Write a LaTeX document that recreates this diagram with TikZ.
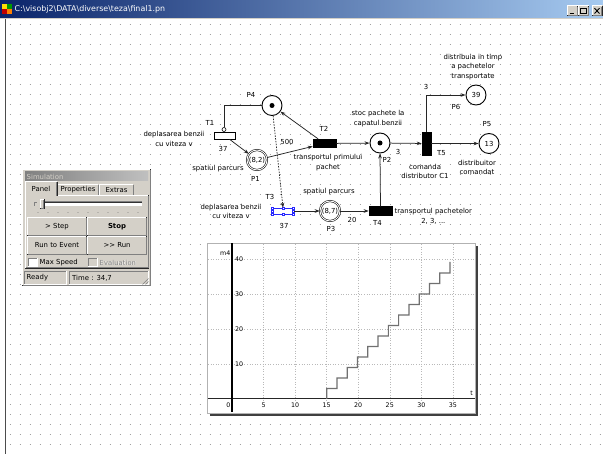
\documentclass[tikz,border=0pt]{standalone}
\usepackage{fontspec}
\setmainfont{DejaVu Sans}
\usetikzlibrary{arrows.meta,calc}

\definecolor{winface}{HTML}{D4D0C8}
\definecolor{winshade}{HTML}{808080}
\definecolor{capdark}{HTML}{0A246A}
\definecolor{caplight}{HTML}{A6CAF0}
\definecolor{capgrayL}{HTML}{808080}
\definecolor{capgrayR}{HTML}{C0C0C0}
\definecolor{dotgray}{HTML}{A0A0A0}
\definecolor{selblue}{HTML}{2828FF}
\definecolor{stairs}{HTML}{707070}

\newcommand\netfont{\fontsize{6.9}{9.8}\selectfont}
\newcommand\uifont{\fontsize{6.9}{8}\selectfont}
\newcommand\tickfont{\fontsize{6.3}{7}\selectfont}

% raised 3D box: x1, y1 (top), x2, y2 (bottom)
\newcommand\raisedpanel[4]{%
  \fill[winface] (#1,#2) rectangle (#3,#4);
  \draw[white,line width=0.7pt] (#1+0.35,#4-0.35) -- (#1+0.35,#2+0.35) -- (#3-0.35,#2+0.35);
  \draw[black!85,line width=0.7pt] (#1+0.35,#4-0.35) -- (#3-0.35,#4-0.35) -- (#3-0.35,#2+0.35);
  \draw[winshade,line width=0.7pt] (#1+1.05,#4-1.05) -- (#3-1.05,#4-1.05) -- (#3-1.05,#2+1.05);
}
% sunken 3D edge
\newcommand\sunkenpanel[4]{%
  \draw[winshade,line width=0.7pt] (#1+0.35,#4-0.35) -- (#1+0.35,#2+0.35) -- (#3-0.35,#2+0.35);
  \draw[white,line width=0.7pt] (#1+0.35,#4-0.35) -- (#3-0.35,#4-0.35) -- (#3-0.35,#2+0.35);
}
% property-sheet tab
\newcommand\tabshape[4]{%
  \fill[winface] (#1,#2) rectangle (#3,#4);
  \draw[white,line width=0.7pt] (#1+0.35,#4) -- (#1+0.35,#2+0.35) -- (#3-1,#2+0.35);
  \draw[black!85,line width=0.7pt] (#3-0.35,#2+1) -- (#3-0.35,#4);
  \draw[winshade,line width=0.7pt] (#3-1.05,#2+1) -- (#3-1.05,#4);
}

\begin{document}
\begin{tikzpicture}[x=1pt,y=-1pt,
  lbl/.style={font=\netfont, inner sep=0pt, align=center},
  place/.style={circle, draw=black, line width=0.9pt, minimum size=20pt, inner sep=0pt, fill=white, font=\netfont},
  dplace/.style={place, double=white, double distance=0.9pt, line width=0.55pt},
  trans/.style={rectangle, draw=black, fill=black, line width=0.6pt, inner sep=0pt},
  htrans/.style={trans, minimum width=23pt, minimum height=8.5pt},
  arc/.style={draw=black!85, line width=0.75pt, -{Stealth[length=5pt,width=3.6pt]}},
  token/.style={circle, fill=black, inner sep=0pt, minimum size=5pt},
  chartgrid/.style={draw=gray!55, line width=0.5pt, dash pattern=on 1pt off 1.6pt},
  btn/.style={font=\uifont, inner sep=0pt},
  tick/.style={font=\tickfont, inner sep=0pt}
]
\useasboundingbox (0,0) rectangle (603,454);
\fill[white] (0,0) rectangle (603,454);

% ---------- drawing area with dot grid ----------
\foreach \yy in {24,34,...,454}
  \draw[dotgray, line width=0.9pt, dash pattern=on 0.9pt off 9.1pt] (9.55,\yy) -- (603,\yy);
\draw[black!70, line width=1pt] (5.5,18) -- (5.5,454);

% ---------- caption bar ----------
\shade[left color=capdark, right color=caplight] (0,0) rectangle (603,18);
\draw[winface, line width=1pt] (0,18.5) -- (603,18.5);
\fill[yellow!80!orange] (2,4) rectangle (7,9);
\fill[green!60!black] (7,4) rectangle (12,9);
\fill[red!75!black] (2,9) rectangle (7,14);
\fill[orange] (7,9) rectangle (12,14);
\node[anchor=west, text=white, font=\fontsize{7.9}{9}\selectfont, inner sep=0pt] (title) at (14.5,9.5)
  {C:\textbackslash visobj2\textbackslash DATA\textbackslash diverse\textbackslash teza\textbackslash final1.pn};
\raisedpanel{567}{5.5}{578}{16}
\raisedpanel{578}{5.5}{589}{16}
\raisedpanel{591.5}{5.5}{602.5}{16}
\draw[black, line width=1.3pt] (569.5,13.5) -- (574,13.5);
\draw[black, line width=0.6pt] (580.5,8.5) rectangle (586,13.8);
\draw[black, line width=1.1pt] (580.5,8.8) -- (586,8.8);
\draw[black, line width=0.9pt] (594.5,8.2) -- (599.5,13.5) (594.5,13.5) -- (599.5,8.2);

% ---------- Petri net: places ----------
\node[place] (P4) at (272,105.5) {};
\node[token] (tok4) at (P4) {};
\node[dplace] (P1) at (257,160) {(8,2)};
\node[place] (P2) at (380,143) {};
\node[token] (tok2) at (P2) {};
\node[dplace] (P3) at (330,211) {(8,7)};
\node[place] (P5) at (489,143.5) {13};
\node[place] (P6) at (476,95) {39};

% ---------- Petri net: transitions ----------
\node[trans, fill=white, minimum width=21pt, minimum height=7pt] (T1) at (224.5,135.5) {};
\node[circle, draw=black, fill=white, line width=0.6pt, minimum size=4pt, inner sep=0pt] (inh1) at (224,129.5) {};
\node[htrans] (T2) at (324.5,143.5) {};
\node[trans, minimum width=9pt, minimum height=23pt] (T5) at (426.5,143.5) {};
\node[rectangle, draw=selblue, line width=0.6pt, minimum width=21pt, minimum height=6pt, inner sep=0pt] (T3) at (283,211) {};
\foreach \hx/\hy [count=\i] in {272.5/208, 283/208, 293.5/208, 272.5/214, 283/214, 293.5/214, 272.5/211, 293.5/211}
  \node[rectangle, draw=selblue, fill=white, line width=0.4pt, minimum size=2.2pt, inner sep=0pt] (h\i) at (\hx,\hy) {};
\node[htrans] (T4) at (380.5,211) {};

% ---------- Petri net: arcs ----------
\draw[black!85, line width=0.75pt] (P4.west) -| (inh1.north);
\draw[arc] (T1) -- (P1);
\draw[arc] (P1) -- (T2);
\draw[arc] (T2) -- (P4);
\draw[arc] (T2) -- (P2);
\draw[arc] (P2) -- (T5);
\draw[arc] (T5) -- (P5);
\draw[arc] (T5.north) |- (P6.west);
\draw[arc, dash pattern=on 1.5pt off 1.3pt] (P4) -- (T3.north);
\draw[arc] (T3) -- (P3);
\draw[arc] (P3) -- (T4);
\draw[arc] (T4.north) -- (P2.south);

% ---------- Petri net: labels ----------
\node[lbl] (lP4) at (251,95) {P4};
\node[lbl] (lT1) at (210,123) {T1};
\node[lbl] (dT1) at (174,139) {deplasarea benzii\\cu viteza v};
\node[lbl] (wT1) at (223,148.5) {37};
\node[lbl] (dP1) at (218,169) {spatiul parcurs};
\node[lbl] (lP1) at (255.5,178.5) {P1};
\node[lbl] (w500) at (287,141.5) {500};
\node[lbl] (lT2) at (324,129) {T2};
\node[lbl] (dT2) at (328,162.5) {transportul primului\\pachet};
\node[lbl] (dP2) at (378,118.5) {stoc pachete la\\capatul benzii};
\node[lbl] (lP2) at (387,160) {P2};
\node[lbl] (w3a) at (398,152) {3};
\node[lbl] (lT5) at (441.5,153) {T5};
\node[lbl] (dT5) at (425,171.5) {comanda\\distributor C1};
\node[lbl] (lP5) at (487,124) {P5};
\node[lbl] (dP5) at (477,167.5) {distribuitor\\comandat};
\node[lbl] (w3b) at (426,86.5) {3};
\node[lbl] (lP6) at (456,106.5) {P6};
\node[lbl] (dP6) at (473,67) {distribuia in timp\\a pachetelor\\transportate};
\node[lbl] (lT3) at (270,196.5) {T3};
\node[lbl] (dT3) at (231,211.5) {deplasarea benzii\\cu viteza v};
\node[lbl] (wT3) at (284,225.5) {37};
\node[lbl] (dP3) at (329,192) {spatiul parcurs};
\node[lbl] (lP3) at (331,228.5) {P3};
\node[lbl] (w20) at (352,220) {20};
\node[lbl] (lT4) at (377.5,223) {T4};
\node[lbl, anchor=west] (dT4) at (394.5,216.5) {transportul pachetelor\\2, 3, ...};

% ---------- simulation control window ----------
\raisedpanel{22}{169}{151}{286}
\shade[left color=capgrayL, right color=capgrayR] (25,172) rectangle (148,181);
\node[anchor=west, text=winface, font=\uifont, inner sep=0pt] (simtitle) at (26.5,176.5) {Simulation};
% page area
\draw[white, line width=0.7pt] (25.35,268) -- (25.35,195.35) -- (148,195.35);
\draw[black!85, line width=0.7pt] (25.35,268) -- (148.65,268) -- (148.65,195.35);
\draw[winshade, line width=0.7pt] (26,267.3) -- (147.95,267.3) -- (147.95,196);
% tabs
\tabshape{57}{184}{99}{195}
\tabshape{99}{184}{134}{195}
\tabshape{25}{181.5}{57.5}{196}
\node[btn] (tab1) at (41,189) {Panel};
\node[btn] (tab2) at (78,190) {Properties};
\node[btn] (tab3) at (116.5,190) {Extras};
% slider
\fill[white] (42,201) rectangle (142,206);
\draw[winshade, line width=0.7pt] (42.35,206) -- (42.35,201.35) -- (142,201.35);
\draw[black!80, line width=0.6pt] (43,205.5) -- (43,202) -- (141.5,202);
\draw[winshade, line width=0.8pt] (34.5,206) -- (34.5,202) -- (37,202);
\raisedpanel{40}{199}{44.5}{209}
\foreach \i in {0,...,10}
  \fill[black!65] ({38+10*\i},212.5) circle (0.45);
% buttons
\raisedpanel{27}{217}{87}{236}
\raisedpanel{87}{217}{147}{236}
\raisedpanel{27}{236}{87}{255}
\raisedpanel{87}{236}{147}{255}
\node[btn] (bstep) at (57,226.5) {> Step};
\node[btn, font=\uifont\bfseries] (bstop) at (117,226.5) {Stop};
\node[btn] (bevent) at (57,245.5) {Run to Event};
\node[btn] (brun) at (117,245.5) {>\kern0pt> Run};
% check boxes
\fill[white] (28,258) rectangle (37.5,267);
\sunkenpanel{28}{258}{37.5}{267}
\node[btn, anchor=west] (cmax) at (39.5,262.5) {Max Speed};
\fill[winface] (88,258) rectangle (97.5,267);
\sunkenpanel{88}{258}{97.5}{267}
\node[btn, anchor=west, text=white] (cevs) at (100,263) {Evaluation};
\node[btn, anchor=west, text=winshade] (cev) at (99.5,262.5) {Evaluation};
% status bar
\sunkenpanel{24}{271}{67}{284.5}
\sunkenpanel{69}{271}{149}{284.5}
\node[btn, anchor=west] (sready) at (26.5,278) {Ready};
\node[btn, anchor=west] (stime) at (72,278) {Time : 34,7};
\foreach \g in {0,3,6}
  \draw[winshade, line width=0.7pt] ({148.5-\g},284.5) -- (148.5,{284.5-\g});

% ---------- marking chart of P4 ----------
\fill[black!75] (210,246) rectangle (478,416);
\fill[white] (207,243) rectangle (475,413);
\draw[gray!60, line width=0.6pt] (207,243) rectangle (475,413);
\foreach \t in {5,10,...,35}
  \draw[chartgrid] ({232+6.31*\t},244) -- ({232+6.31*\t},401);
\foreach \v in {10,20,30,40}
  \draw[chartgrid] (208,{399-3.5*\v}) -- (474,{399-3.5*\v});
\draw[black!85, line width=1pt] (208,399) -- (474.5,399);
\draw[black, line width=1.6pt] (232,243.5) -- (232,412.5);
\node[tick] (x0) at (228.5,405.5) {0};
\foreach \t in {5,10,...,35}
  \node[tick] (x\t) at ({232+6.31*\t},405.5) {\t};
\foreach \v in {10,20,30,40}
  \node[tick, anchor=west] (y\v) at (235,{399-3.5*\v}) {\v};
\node[tick, anchor=east] (ylab) at (230.5,253.5) {m4};
\node[tick] (xlab) at (471.5,393) {t};
\draw[stairs, line width=1.2pt] (326.65,399)
  \foreach \k in {0,...,11} { -- ({326.65+10.285*\k},{388.5-10.5*\k}) -- ({336.935+10.285*\k},{388.5-10.5*\k}) }
  -- (450.07,262);
\end{tikzpicture}
\end{document}
